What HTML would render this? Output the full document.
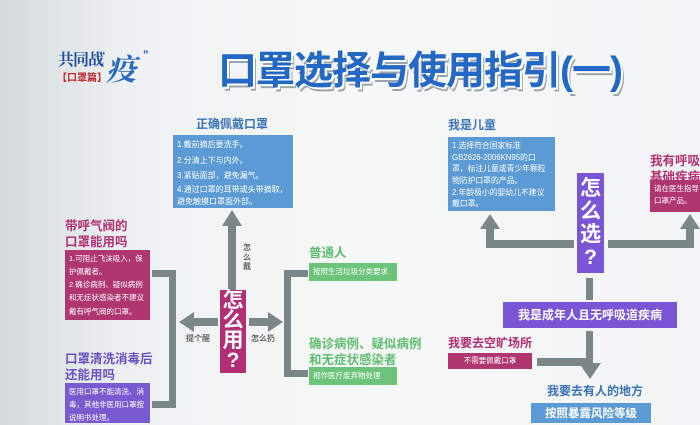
<!DOCTYPE html>
<html><head><meta charset="utf-8"><style>
*{margin:0;padding:0;box-sizing:border-box}
body{width:700px;height:420px;overflow:hidden;position:relative;font-family:"Liberation Sans","Noto Sans CJK SC",sans-serif;
background:linear-gradient(90deg,#d4dadd 0%,#eef1f2 18%,#f7f8f8 50%,#f3f4f5 100%)}
.a{position:absolute}
.t{position:absolute;font-weight:bold;white-space:nowrap;line-height:1.15}
.box{position:absolute;color:#fff;font-size:8px;line-height:1.75;padding:3px 4px;overflow:hidden}
.g{background:#7a8688;position:absolute}
</style></head><body>
<!-- logo -->
<div class="t" style="left:58px;top:50px;font-family:'Noto Serif CJK SC',serif;font-size:16px;color:#1f4f9c;letter-spacing:-1px">共同战</div>
<div class="t" style="left:106px;top:50px;font-family:'Noto Serif CJK SC',serif;font-size:30px;color:#2a69c0;font-style:italic">疫</div>
<div class="t" style="left:100px;top:50px;font-size:11px;color:#1f4f9c">“</div>
<div class="t" style="left:143px;top:49px;font-size:11px;color:#1f4f9c">”</div>
<div class="t" style="left:57px;top:73px;font-size:10px;color:#c0262c">【口罩篇】</div>
<!-- title -->
<div class="t" style="left:218px;top:50px;font-size:39px;color:#2268c4;letter-spacing:-1px;text-shadow:2px 2px 0 #fff,3px 4px 0 #9aa4ac">口罩选择与使用指引(一)</div>

<!-- 正确佩戴口罩 -->
<div class="t" style="left:196px;top:118px;font-size:12px;color:#3b74b6">正确佩戴口罩</div>
<div class="box" style="left:173px;top:135px;width:120px;height:73px;background:#5b9ad4;line-height:1.95;padding-top:2px">1.戴前摘后要洗手。<br>2.分清上下与内外。<br>3.紧贴面部，避免漏气。<br><span style="line-height:1.5;display:block">4.通过口罩的耳带或头带摘取，避免触摸口罩面外部。</span></div>

<!-- center up arrow -->
<div class="g" style="left:228px;top:225px;width:8px;height:65px"></div>
<div class="a" style="left:222px;top:210px;width:0;height:0;border-left:10px solid transparent;border-right:10px solid transparent;border-bottom:16px solid #7a8688"></div>
<div class="t" style="left:243px;top:243px;font-size:8px;color:#666;width:9px;white-space:normal;line-height:1.2">怎么戴</div>

<!-- 怎么用 -->
<div class="a" style="left:220px;top:290px;width:26px;height:83px;background:#b22f74;color:#fff;font-weight:bold;font-size:21px;line-height:20px;text-align:center;padding-top:1px">怎<br>么<br>用<br>?</div>
<!-- left arrow -->
<div class="g" style="left:192px;top:318px;width:26px;height:8px"></div>
<div class="a" style="left:179px;top:312px;border-top:10px solid transparent;border-bottom:10px solid transparent;border-right:15px solid #7a8688"></div>
<div class="t" style="left:186px;top:334px;font-size:8px;color:#666">提个醒</div>
<!-- right arrow -->
<div class="g" style="left:249px;top:318px;width:22px;height:8px"></div>
<div class="a" style="left:268px;top:312px;border-top:10px solid transparent;border-bottom:10px solid transparent;border-left:15px solid #7a8688"></div>
<div class="t" style="left:251px;top:334px;font-size:8px;color:#666">怎么扔</div>

<!-- left bracket -->
<div class="g" style="left:152px;top:270px;width:24px;height:7px"></div>
<div class="g" style="left:169px;top:270px;width:7px;height:138px"></div>
<div class="g" style="left:152px;top:401px;width:24px;height:7px"></div>
<!-- right bracket -->
<div class="g" style="left:284px;top:270px;width:24px;height:7px"></div>
<div class="g" style="left:284px;top:270px;width:7px;height:107px"></div>
<div class="g" style="left:284px;top:370px;width:24px;height:7px"></div>

<!-- left items -->
<div class="t" style="left:65px;top:218px;font-size:12.5px;color:#b22f74;line-height:1.3">带呼气阀的<br>口罩能用吗</div>
<div class="box" style="left:65px;top:250px;width:85px;height:70px;background:#b0366f;font-size:7.5px;line-height:1.75;padding-top:2px">1.可阻止飞沫吸入，保护佩戴者。<br>2.确诊病例、疑似病例和无症状感染者不建议戴有呼气阀的口罩。</div>
<div class="t" style="left:65px;top:351px;font-size:12.5px;color:#6a4fc4;line-height:1.3">口罩清洗消毒后<br>还能用吗</div>
<div class="box" style="left:65px;top:383px;width:85px;height:40px;background:#7a5ad0;font-size:7.5px;line-height:1.75;padding-top:2px">医用口罩不能清洗、消毒，其他非医用口罩按说明书处理。</div>

<!-- right items (green) -->
<div class="t" style="left:309px;top:246px;font-size:12.5px;color:#5fbd6f">普通人</div>
<div class="box" style="left:309px;top:263px;width:88px;height:18px;background:#6cc47b;font-size:7.5px;line-height:12px">按照生活垃圾分类要求</div>
<div class="t" style="left:309px;top:336px;font-size:12.5px;color:#5fbd6f;line-height:1.3">确诊病例、疑似病例<br>和无症状感染者</div>
<div class="box" style="left:309px;top:367px;width:88px;height:18px;background:#6cc47b;font-size:7.5px;line-height:12px">视作医疗废弃物处理</div>

<!-- 我是儿童 -->
<div class="t" style="left:448px;top:119px;font-size:12px;color:#3b74b6">我是儿童</div>
<div class="box" style="left:448px;top:137px;width:107px;height:74px;background:#5b9ad4;font-size:7.8px;line-height:1.5;padding-top:3px">1.选择符合国家标准GB2626-2006KN95的口罩，标注儿童或青少年颗粒物防护口罩的产品。<br>2.年龄极小的婴幼儿不建议戴口罩。</div>

<!-- 怎么选 -->
<div class="a" style="left:577px;top:173px;width:27px;height:100px;background:#7a55d6;color:#fff;font-weight:bold;font-size:21px;line-height:23px;text-align:center;padding-top:4px">怎<br>么<br>选<br>?</div>
<div class="g" style="left:486px;top:240px;width:88px;height:8px"></div>
<div class="g" style="left:486px;top:228px;width:8px;height:20px"></div>
<div class="a" style="left:480px;top:214px;border-left:10px solid transparent;border-right:10px solid transparent;border-bottom:15px solid #7a8688"></div>
<div class="g" style="left:608px;top:240px;width:86px;height:8px"></div>
<div class="g" style="left:686px;top:228px;width:8px;height:20px"></div>
<div class="a" style="left:680px;top:214px;border-left:10px solid transparent;border-right:10px solid transparent;border-bottom:15px solid #7a8688"></div>

<!-- 呼吸道 -->
<div class="t" style="left:650px;top:153px;font-size:12.5px;color:#b22f74;line-height:1.3">我有呼吸道<br>基础疾病</div>
<div class="box" style="left:650px;top:180px;width:60px;height:32px;background:#b0366f;font-size:7.5px;line-height:1.6">请在医生指导<br>口罩产品。</div>

<!-- down -->
<div class="g" style="left:586px;top:278px;width:7px;height:22px"></div>
<div class="a" style="left:503px;top:302px;width:174px;height:26px;background:#7a55d6;color:#fff;font-weight:bold;font-size:12px;line-height:26px;text-align:center">我是成年人且无呼吸道疾病</div>
<div class="g" style="left:586px;top:331px;width:7px;height:36px"></div>
<div class="g" style="left:537px;top:358px;width:54px;height:8px"></div>
<div class="a" style="left:579px;top:363px;border-left:11px solid transparent;border-right:11px solid transparent;border-top:16px solid #7a8688"></div>

<div class="t" style="left:448px;top:337px;font-size:12px;color:#b22f74">我要去空旷场所</div>
<div class="box" style="left:448px;top:353px;width:84px;height:16px;background:#b0366f;font-size:7.5px;line-height:10px;text-align:center">不需要佩戴口罩</div>
<div class="t" style="left:547px;top:385px;font-size:12px;color:#3b74b6">我要去有人的地方</div>
<div class="a" style="left:531px;top:403px;width:120px;height:20px;background:#5b9ad4;color:#fff;font-weight:bold;font-size:11.5px;line-height:22px;text-align:center">按照暴露风险等级</div>
</body></html>
